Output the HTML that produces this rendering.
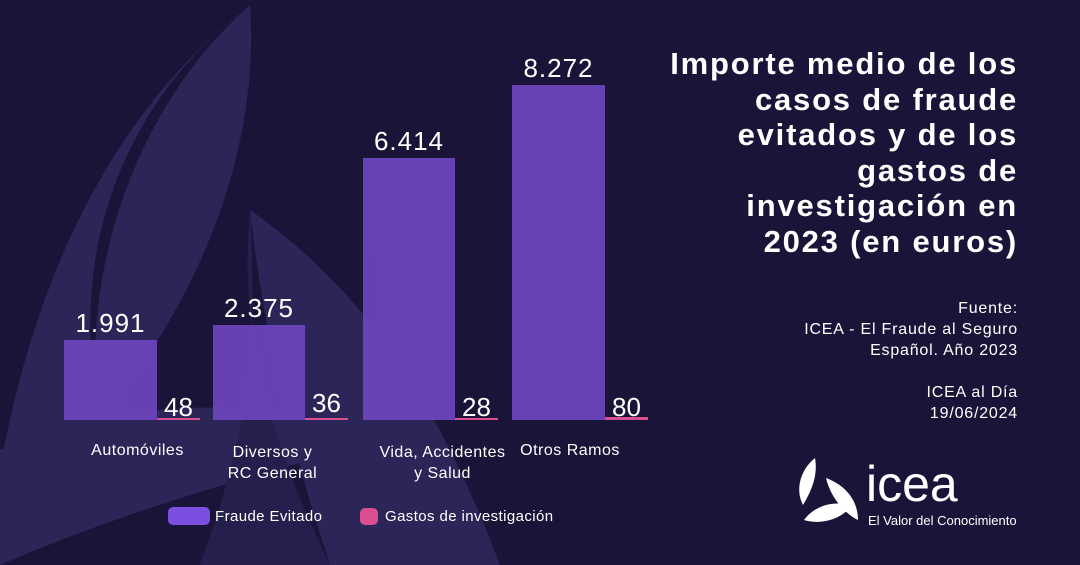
<!DOCTYPE html>
<html><head><meta charset="utf-8"><style>
body{margin:0;width:1080px;height:565px;overflow:hidden;background:#1a1538;font-family:"Liberation Sans",sans-serif;color:#fff}
.t{position:absolute;white-space:nowrap}
</style></head><body>
<svg width="1080" height="565" style="position:absolute;left:0;top:0">
<path d="M250,5 C150,80 60,220 100,420 C60,470 20,520 0,560 L0,470 C30,300 100,120 250,5Z" fill="#2b2558"/>
<path d="M250,5 C260,150 200,300 100,420 C80,300 120,120 250,5Z" fill="#2b2558"/>
<path d="M0,450 C150,390 280,400 380,440 C280,470 150,500 0,565Z" fill="#2b2558"/>
<path d="M250,210 C350,280 430,380 500,565 L330,565 C300,470 270,380 250,210Z" fill="#2b2558"/>
<path d="M250,210 C240,320 260,420 330,565 L200,565 C240,450 260,380 250,210Z" fill="#251f4d"/>
<g fill="#6a44bb" opacity="0.95">
<rect x="64" y="340" width="93" height="80"/>
<rect x="213" y="325" width="92" height="95"/>
<rect x="363" y="158" width="92" height="262"/>
<rect x="512" y="85" width="93" height="335"/>
</g>
<g fill="#d94f8f">
<rect x="157" y="418" width="43" height="2"/>
<rect x="305" y="418" width="43" height="2"/>
<rect x="455" y="418" width="43" height="2"/>
<rect x="605" y="417" width="43" height="3"/>
</g>
<rect x="168" y="507" width="42" height="18" rx="5" fill="#7b4fe0"/>
<rect x="360" y="508" width="18" height="17" rx="5" fill="#d94f8f"/>
<g fill="#fff">
<path d="M815,458 C800,470 795,490 803,505 C812,490 818,475 815,458Z"/>
<path d="M804,520 C815,505 835,500 852,506 C840,520 820,525 804,520Z"/>
<path d="M826,478 C845,485 858,500 858,520 C842,512 830,495 826,478Z"/>
</g>
</svg>
<div class="t" style="left:64px;width:93px;text-align:center;top:308px;font-size:26px;letter-spacing:1px">1.991</div>
<div class="t" style="left:213px;width:92px;text-align:center;top:293px;font-size:26px;letter-spacing:1px">2.375</div>
<div class="t" style="left:363px;width:92px;text-align:center;top:126px;font-size:26px;letter-spacing:1px">6.414</div>
<div class="t" style="left:512px;width:93px;text-align:center;top:53px;font-size:26px;letter-spacing:1px">8.272</div>
<div class="t" style="left:157px;width:43px;text-align:center;top:392px;font-size:26px">48</div>
<div class="t" style="left:305px;width:43px;text-align:center;top:388px;font-size:26px">36</div>
<div class="t" style="left:455px;width:43px;text-align:center;top:392px;font-size:26px">28</div>
<div class="t" style="left:605px;width:43px;text-align:center;top:392px;font-size:26px">80</div>
<div class="t" style="left:60px;width:155px;text-align:center;top:442px;font-size:16px;letter-spacing:0.5px">Automóviles</div>
<div class="t" style="left:200px;width:145px;text-align:center;top:442px;font-size:16px;line-height:21px;letter-spacing:0.5px">Diversos y<br>RC General</div>
<div class="t" style="left:355px;width:175px;text-align:center;top:442px;font-size:16px;line-height:21px;letter-spacing:0.5px">Vida, Accidentes<br>y Salud</div>
<div class="t" style="left:500px;width:140px;text-align:center;top:442px;font-size:16px;letter-spacing:0.5px">Otros Ramos</div>
<div class="t" style="left:215px;top:508px;font-size:15px;letter-spacing:0.4px">Fraude Evitado</div>
<div class="t" style="left:385px;top:508px;font-size:15px;letter-spacing:0.4px">Gastos de investigación</div>
<div class="t" style="right:62px;top:46px;text-align:right;font-size:31px;font-weight:bold;line-height:35.5px;letter-spacing:1.8px">Importe medio de los<br>casos de fraude<br>evitados y de los<br>gastos de<br>investigación en<br>2023 (en euros)</div>
<div class="t" style="right:62px;top:298px;text-align:right;font-size:16px;line-height:21px;letter-spacing:0.8px">Fuente:<br>ICEA - El Fraude al Seguro<br>Español. Año 2023<br><br>ICEA al Día<br>19/06/2024</div>
<div class="t" style="left:866px;top:456px;font-size:50px;line-height:56px">icea</div>
<div class="t" style="left:868px;top:513px;font-size:13px">El Valor del Conocimiento</div>
</body></html>
